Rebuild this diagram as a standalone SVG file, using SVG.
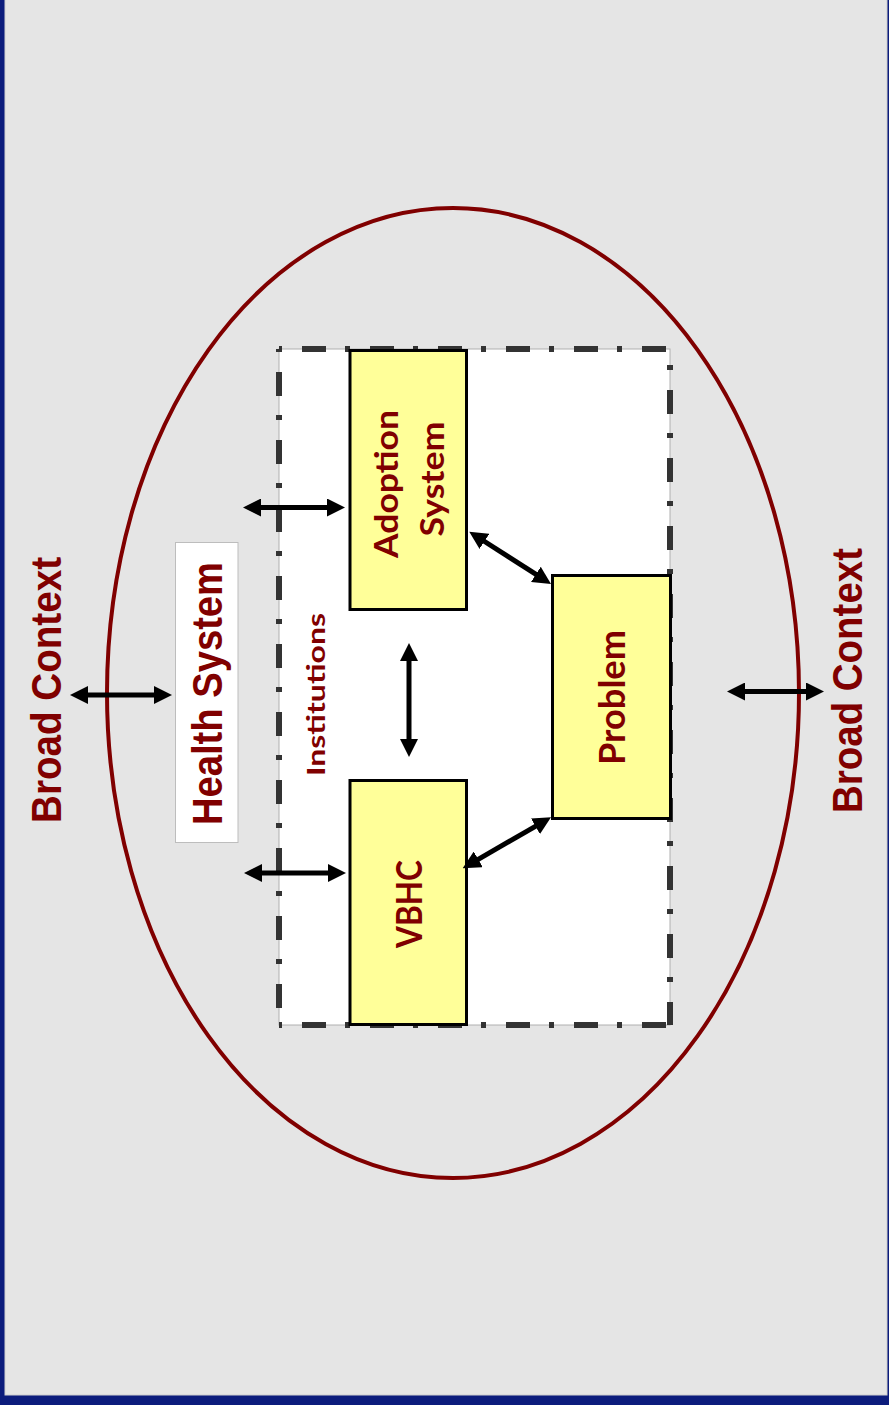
<svg xmlns="http://www.w3.org/2000/svg" width="889" height="1405" viewBox="0 0 889 1405">
  <style>
    .lbl { fill: #800000; text-anchor: middle; }
    .ctx { font-family: "Liberation Sans", Arial, sans-serif; font-weight: bold; font-size: 42px; }
    .box-lbl { font-family: Lato, "Open Sans", sans-serif; font-weight: bold; }
    .node { fill: #FFFF99; stroke: #000; stroke-width: 3; }
    .frame { fill: none; stroke: #333; stroke-width: 6; stroke-dasharray: 5 20 24 19; }
    .link { stroke: #000; stroke-width: 5; fill: none; marker-start: url(#head); marker-end: url(#head); }
  </style>
  <defs>
    <marker id="head" markerUnits="userSpaceOnUse" markerWidth="18" markerHeight="18" refX="10" refY="9" orient="auto-start-reverse">
      <path d="M0,0 L18,9 L0,18 Z" fill="#000"/>
    </marker>
  </defs>

  <!-- page background and frame -->
  <rect x="0" y="0" width="889" height="1405" fill="#0c1c7c"/>
  <rect x="5" y="-10" width="882" height="1405" fill="#E5E5E5" stroke="#cfcfcf" stroke-width="1"/>

  <!-- outer context ellipse -->
  <g id="context-ellipse">
    <ellipse cx="453" cy="693" rx="346" ry="485" fill="none" stroke="#800000" stroke-width="4"/>
  </g>

  <!-- institutions boundary -->
  <g id="institutions">
    <rect x="279" y="349" width="391" height="676" fill="#fff" stroke="#b0b0b0" stroke-width="1"/>
    <line class="frame" x1="279" y1="349" x2="670" y2="349" stroke-dashoffset="2"/>
    <line class="frame" x1="279" y1="1025" x2="670" y2="1025" stroke-dashoffset="2"/>
    <line class="frame" x1="279" y1="349" x2="279" y2="1025" stroke-dashoffset="2"/>
    <line class="frame" x1="670" y1="349" x2="670" y2="1025" stroke-dashoffset="52"/>
    <text class="lbl box-lbl" font-size="24" textLength="163" lengthAdjust="spacingAndGlyphs" transform="translate(325,694.5) rotate(-90)">Institutions</text>
  </g>

  <!-- health system -->
  <g id="health-system">
    <rect x="175.5" y="542.5" width="62.5" height="300" fill="#fff" stroke="#bdbdbd" stroke-width="1"/>
    <text class="lbl ctx" textLength="263" lengthAdjust="spacingAndGlyphs" transform="translate(222,693.5) rotate(-90)">Health System</text>
  </g>

  <!-- broad context labels -->
  <g id="broad-context-left">
    <text class="lbl ctx" textLength="266" lengthAdjust="spacingAndGlyphs" transform="translate(61,690) rotate(-90)">Broad Context</text>
  </g>
  <g id="broad-context-right">
    <text class="lbl ctx" textLength="265" lengthAdjust="spacingAndGlyphs" transform="translate(862,680.5) rotate(-90)">Broad Context</text>
  </g>

  <!-- adoption system -->
  <g id="adoption-system">
    <rect class="node" x="350" y="350.5" width="116.5" height="259"/>
    <text class="lbl box-lbl" font-size="33" textLength="148" lengthAdjust="spacingAndGlyphs" transform="translate(397.5,484) rotate(-90)">Adoption</text>
    <text class="lbl box-lbl" font-size="33" textLength="115" lengthAdjust="spacingAndGlyphs" transform="translate(443.5,479) rotate(-90)">System</text>
  </g>

  <!-- value-based health care -->
  <g id="vbhc">
    <rect class="node" x="350" y="780.5" width="116.5" height="244"/>
    <text class="lbl box-lbl" font-size="37" textLength="88" lengthAdjust="spacingAndGlyphs" transform="translate(422,904) rotate(-90)">VBHC</text>
  </g>

  <!-- problem -->
  <g id="problem">
    <rect class="node" x="552.5" y="575.5" width="118" height="243"/>
    <text class="lbl box-lbl" font-size="37" textLength="135" lengthAdjust="spacingAndGlyphs" transform="translate(625,697.5) rotate(-90)">Problem</text>
  </g>

  <!-- connectors -->
  <g id="connectors">
    <line class="link" x1="78" y1="695" x2="164" y2="695"/>
    <line class="link" x1="735" y1="691.5" x2="816" y2="691.5"/>
    <line class="link" x1="251" y1="507.5" x2="337" y2="507.5"/>
    <line class="link" x1="252" y1="873" x2="338" y2="873"/>
    <line class="link" x1="409" y1="651" x2="409" y2="749"/>
    <line class="link" x1="476" y1="536" x2="544.3" y2="579.7"/>
    <line class="link" x1="544.1" y1="821.3" x2="469.6" y2="864.3"/>
  </g>
</svg>
